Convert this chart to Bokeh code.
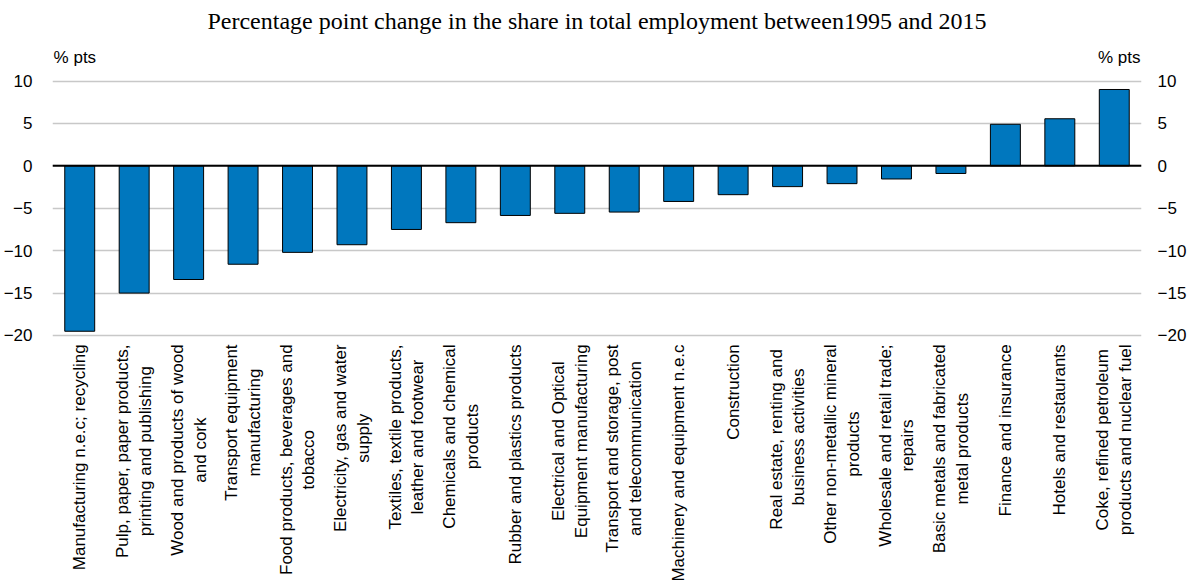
import math
from bokeh.plotting import figure
from bokeh.models import (FactorRange, Range1d, LinearAxis, FixedTicker, Span, Label,
                          ColumnDataSource)
from bokeh.embed import file_html
from bokeh.resources import INLINE

categories = [
    "Manufacturing n.e.c; recycling",
    "Pulp, paper, paper products,\nprinting and publishing",
    "Wood and products of wood\nand cork",
    "Transport equipment\nmanufacturing",
    "Food products, beverages and\ntobacco",
    "Electricity, gas and water\nsupply",
    "Textiles, textile products,\nleather and footwear",
    "Chemicals and chemical\nproducts",
    "Rubber and plastics products",
    "Electrical and Optical\nEquipment manufacturing",
    "Transport and storage, post\nand telecommunication",
    "Machinery and equipment n.e.c",
    "Construction",
    "Real estate,  renting and\nbusiness activities",
    "Other non-metallic mineral\nproducts",
    "Wholesale and retail trade;\nrepairs",
    "Basic metals and fabricated\nmetal products",
    "Finance and insurance",
    "Hotels and restaurants",
    "Coke, refined petroleum\nproducts and nuclear fuel",
]
values = [-19.5, -15.0, -13.4, -11.6, -10.2, -9.3, -7.5, -6.7, -5.85, -5.6,
          -5.45, -4.2, -3.4, -2.45, -2.1, -1.55, -0.9, 4.9, 5.55, 9.0]
y_ticks = [-20, -15, -10, -5, 0, 5, 10]
title_text = "Percentage point change in the share in total employment between1995 and 2015"
unit_text = "% pts"

SANS = "'Liberation Sans', Arial, sans-serif"
SERIF = "'Liberation Serif', serif"

src = ColumnDataSource(dict(cat=categories, val=values))

# frame spans the full height; the value scale is placed so that 10..-20
# sits where the reference draws it, leaving room for title and labels
p = figure(width=1189, height=583, output_backend="svg", toolbar_location=None,
           x_range=FactorRange(*categories, range_padding=0),
           y_range=Range1d(-49.235, 19.49),
           min_border_left=52, min_border_right=48, min_border_top=0,
           min_border_bottom=0)
p.outline_line_color = None
p.background_fill_color = "white"

p.vbar(x="cat", top="val", bottom=0, width=0.55, source=src,
       fill_color="#0077BE", line_color="black", line_width=1)

p.ygrid.ticker = FixedTicker(ticks=y_ticks)
p.ygrid.grid_line_color = "#C8C8C8"
p.ygrid.grid_line_width = 1.5
p.xgrid.grid_line_color = None

p.add_layout(Span(location=0, dimension="width", line_color="black", line_width=2))

for ax in p.yaxis:
    ax.ticker = FixedTicker(ticks=y_ticks)
right = LinearAxis(ticker=FixedTicker(ticks=y_ticks))
p.add_layout(right, "right")
for ax in p.yaxis:
    ax.axis_line_color = None
    ax.major_tick_line_color = None
    ax.minor_tick_line_color = None
    ax.major_tick_out = 0
    ax.major_tick_in = 0
    ax.major_label_text_font = SANS
    ax.major_label_text_font_size = "17px"
    ax.major_label_text_color = "black"
p.yaxis[0].major_label_standoff = 20
right.major_label_standoff = 16

p.xaxis.visible = False

# category labels: block top just below the value area, lines centred
has_anchor = "anchor" in Label.properties()
for i, cat in enumerate(categories):
    kw = dict(anchor="center_right") if has_anchor else {}
    p.add_layout(Label(x=i + 0.5, y=-21.05, x_units="data", y_units="data",
                       angle=math.pi / 2, text=cat, text_font=SANS,
                       text_font_size="17px", text_line_height=1.2,
                       text_align="center" if has_anchor else "right",
                       text_baseline="middle", text_color="black", **kw))

p.add_layout(Label(x=len(categories) / 2, y=17.13, x_units="data", y_units="data",
                   text=title_text, text_font=SERIF, text_font_size="24px",
                   text_align="center", text_baseline="middle", text_color="black"))
p.add_layout(Label(x=0.02, y=12.77, x_units="data", y_units="data",
                   text=unit_text, text_font=SANS, text_font_size="17px",
                   text_align="left", text_baseline="middle", text_color="black"))
p.add_layout(Label(x=len(categories) - 0.02, y=12.77, x_units="data", y_units="data",
                   text=unit_text, text_font=SANS, text_font_size="17px",
                   text_align="right", text_baseline="middle", text_color="black"))

open("out.html", "w").write(file_html(p, INLINE))
